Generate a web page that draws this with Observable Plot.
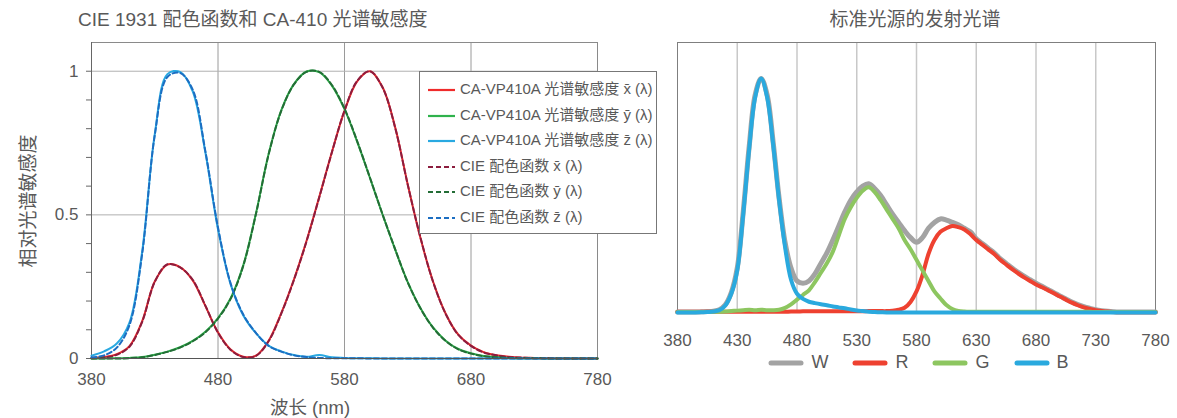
<!DOCTYPE html>
<html><head><meta charset="utf-8">
<script src="https://cdn.jsdelivr.net/npm/d3@7"></script>
<script src="https://cdn.jsdelivr.net/npm/@observablehq/plot@0.6"></script>
<style>
body{margin:0;background:#fff;font-family:Arial,"Liberation Sans","Noto Sans CJK SC",sans-serif;color:#595959;}
#wrap{position:relative;width:1177px;height:418px;overflow:hidden;}
.abs{position:absolute;white-space:nowrap;}
.title{font-size:19px;color:#595959;top:6px;line-height:28px;}
#legL{left:419px;top:71px;width:238px;height:163px;border:1px solid #777;background:#fff;box-sizing:border-box;}
#legL .row{position:absolute;left:8px;height:20px;font-size:15px;line-height:20px;color:#595959;}
#legL svg{vertical-align:middle;margin-right:5px;}
#legR{top:352px;left:660px;width:517px;display:flex;justify-content:center;font-size:18px;color:#595959;}
#legR .it{display:flex;align-items:center;margin:0 12px;}
#legR svg{margin-right:7px;}
</style></head>
<body><div id="wrap"></div>
<script>
// ---------- data ----------
const wl10 = d3.range(380, 781, 10);
// CIE 1931 colour matching functions (normalised to peak 1)
const cieX = [0.001,0.004,0.013,0.041,0.127,0.267,0.328,0.317,0.274,0.184,0.090,0.030,0.005,0.009,0.060,0.156,0.273,0.408,0.560,0.717,0.863,0.966,1.000,0.944,0.804,0.605,0.422,0.267,0.155,0.082,0.044,0.021,0.011,0.005,0.003,0.001,0.001,0,0,0,0];
const cieY = [0,0,0,0.001,0.004,0.012,0.023,0.038,0.060,0.091,0.139,0.208,0.323,0.503,0.710,0.862,0.954,0.998,0.998,0.952,0.870,0.757,0.631,0.503,0.381,0.265,0.175,0.107,0.061,0.032,0.017,0.008,0.004,0.002,0.001,0.001,0,0,0,0,0];
const cieZ = [0.004,0.011,0.038,0.116,0.362,0.777,0.980,0.994,0.936,0.722,0.456,0.261,0.153,0.089,0.044,0.024,0.011,0.005,0.002,0.001,0.001,0.001,0,0,0,0,0,0,0,0,0,0,0,0,0,0,0,0,0,0,0];
// CA-VP410A spectral sensitivities
const caX = [0.002,0.005,0.015,0.043,0.129,0.268,0.327,0.318,0.272,0.183,0.091,0.031,0.006,0.010,0.062,0.158,0.275,0.410,0.562,0.718,0.862,0.965,1.000,0.945,0.806,0.606,0.420,0.268,0.156,0.083,0.045,0.022,0.011,0.006,0.003,0.002,0.001,0.001,0,0,0];
const caY = [0,0,0.001,0.002,0.005,0.013,0.024,0.039,0.061,0.093,0.141,0.210,0.325,0.505,0.712,0.864,0.955,0.999,0.997,0.950,0.868,0.755,0.630,0.502,0.380,0.266,0.176,0.108,0.062,0.033,0.018,0.009,0.005,0.002,0.001,0.001,0,0,0,0,0];
const caZ = [0.010,0.025,0.052,0.125,0.370,0.780,0.990,0.998,0.930,0.718,0.450,0.258,0.150,0.088,0.045,0.025,0.012,0.006,0.012,0.004,0.002,0.001,0.001,0,0,0,0,0,0,0,0,0,0,0,0,0,0,0,0,0,0];

const wl5 = d3.range(380, 781, 5);
// emission spectra of standard sources (relative)
const specW = [0.002,0.002,0.002,0.002,0.003,0.004,0.006,0.012,0.033,0.085,0.19,0.43,0.71,0.93,1.00,0.93,0.73,0.49,0.30,0.19,0.135,0.125,0.135,0.165,0.21,0.255,0.31,0.37,0.43,0.48,0.515,0.54,0.55,0.53,0.50,0.46,0.42,0.385,0.35,0.32,0.30,0.32,0.36,0.385,0.40,0.395,0.385,0.375,0.36,0.345,0.315,0.295,0.275,0.255,0.23,0.21,0.19,0.172,0.155,0.14,0.125,0.112,0.098,0.085,0.071,0.058,0.045,0.034,0.025,0.018,0.012,0.008,0.005,0.003,0.002,0.002,0.002,0.002,0.002,0.002,0.002];
const specR = [0.003,0.003,0.003,0.003,0.003,0.003,0.003,0.003,0.003,0.003,0.003,0.003,0.003,0.003,0.003,0.003,0.003,0.003,0.003,0.004,0.004,0.005,0.005,0.005,0.005,0.005,0.005,0.005,0.005,0.005,0.005,0.005,0.006,0.006,0.006,0.006,0.008,0.012,0.02,0.045,0.09,0.16,0.25,0.31,0.345,0.36,0.37,0.365,0.355,0.335,0.31,0.29,0.27,0.25,0.225,0.205,0.185,0.167,0.15,0.135,0.12,0.108,0.095,0.082,0.068,0.055,0.042,0.031,0.022,0.015,0.01,0.006,0.004,0.002,0.001,0.001,0.001,0.001,0.001,0.001,0.001];
const specG = [0.002,0.002,0.002,0.002,0.002,0.002,0.003,0.003,0.004,0.006,0.008,0.01,0.012,0.01,0.012,0.01,0.01,0.012,0.02,0.035,0.055,0.075,0.095,0.13,0.17,0.21,0.26,0.33,0.40,0.45,0.49,0.52,0.535,0.515,0.48,0.44,0.40,0.36,0.31,0.27,0.225,0.18,0.135,0.09,0.06,0.032,0.015,0.007,0.004,0.003,0.003,0.003,0.003,0.003,0.003,0.003,0.003,0.003,0.003,0.003,0.003,0.003,0.003,0.003,0.003,0.003,0.003,0.003,0.003,0.003,0.002,0.002,0.002,0.002,0.002,0.002,0.002,0.002,0.002,0.002,0.002];
const specB = [0,0,0,0,0.001,0.002,0.004,0.01,0.03,0.08,0.18,0.42,0.70,0.92,1.00,0.92,0.72,0.48,0.28,0.14,0.08,0.058,0.046,0.04,0.035,0.031,0.026,0.022,0.018,0.013,0.009,0.006,0.003,0.002,0.001,0,0,0,0,0,0,0,0,0,0,0,0,0,0,0,0,0,0,0,0,0,0,0,0,0,0,0,0,0,0,0,0,0,0,0,0,0,0,0,0,0,0,0,0,0,0];

const leftXTicks = [380,480,580,680,780];
const leftYTicks = [0,0.5,1];
const leftYMinor = [0,0.1,0.2,0.3,0.4,0.5,0.6,0.7,0.8,0.9,1.0];
const rightXTicks = [380,430,480,530,580,630,680,730,780];

const leftSeries = [
  {name:"CA-VP410A 光谱敏感度 x̄ (λ)", vals:caX, color:"#ef2b2b", dash:null},
  {name:"CA-VP410A 光谱敏感度 ȳ (λ)", vals:caY, color:"#2fb24c", dash:null},
  {name:"CA-VP410A 光谱敏感度 z̄ (λ)", vals:caZ, color:"#29a9e1", dash:null},
  {name:"CIE 配色函数 x̄ (λ)", vals:cieX, color:"#8c1d3e", dash:"5,3"},
  {name:"CIE 配色函数 ȳ (λ)", vals:cieY, color:"#236d36", dash:"5,3"},
  {name:"CIE 配色函数 z̄ (λ)", vals:cieZ, color:"#1c6ec2", dash:"5,3"}
];
const rightSeries = [
  {name:"W", vals:specW, color:"#a3a3a3", w:5},
  {name:"R", vals:specR, color:"#ee4130", w:4},
  {name:"G", vals:specG, color:"#8dc660", w:4},
  {name:"B", vals:specB, color:"#2aa9de", w:4}
];

const FONT = 'Arial, "Liberation Sans", "Noto Sans CJK SC", sans-serif';
const wrap = document.getElementById("wrap");
function addDiv(cls, html, style){const d=document.createElement("div");d.className="abs "+cls;d.innerHTML=html;Object.assign(d.style,style);wrap.appendChild(d);return d;}

// ---------- left chart ----------
addDiv("title","CIE 1931 配色函数和 CA-410 光谱敏感度",{left:"78px"});
const leftMarks = [
  Plot.gridX([480,580,680],{stroke:"#9a9a9a",strokeOpacity:1}),
  Plot.gridY([0.5,1],{stroke:"#b0b0b0",strokeOpacity:1}),
  Plot.frame({stroke:"#8a8a8a"}),
  Plot.axisY(leftYMinor,{tickSize:5,tickFormat:()=>"",stroke:"#666"}),
  Plot.axisY(leftYTicks,{tickSize:0,tickPadding:13,tickFormat:d=>String(d),fontSize:17}),
  Plot.axisX(leftXTicks,{tickSize:0,tickPadding:14,fontSize:17}),
  Plot.ruleX([380],{stroke:"#666"}),
];
for (const s of leftSeries.filter(s=>!s.dash)) {
  leftMarks.push(Plot.line(wl10.map((w,i)=>({w,v:s.vals[i]})),{x:"w",y:"v",stroke:s.color,strokeWidth:2,curve:"catmull-rom"}));
}
for (const s of leftSeries.filter(s=>s.dash)) {
  leftMarks.push(Plot.line(wl10.map((w,i)=>({w,v:s.vals[i]})),{x:"w",y:"v",stroke:s.color,strokeWidth:2,strokeDasharray:s.dash,curve:"catmull-rom"}));
}
leftMarks.push(Plot.ruleY([0],{stroke:"#555"}));
const left = Plot.plot({
  width:620,height:382,marginLeft:91,marginRight:23,marginTop:6,marginBottom:60,
  x:{domain:[380,780],label:null},
  y:{domain:[0,1.1],label:null},
  style:{fontFamily:FONT,fontSize:"17px",color:"#595959",background:"transparent",overflow:"visible"},
  marks:leftMarks
});
left.style.position="absolute";left.style.left="0px";left.style.top="36px";
wrap.appendChild(left);
addDiv("","波长 (nm)",{left:"310px",top:"397px",fontSize:"18.5px",transform:"translateX(-50%)",lineHeight:"22px"});
addDiv("","相对光谱敏感度",{left:"29px",top:"201px",fontSize:"19px",transform:"translate(-50%,-50%) rotate(-90deg)",lineHeight:"22px"});

const leg = addDiv("","",{});
leg.id="legL";
leftSeries.forEach((s,i)=>{
  const r=document.createElement("div");r.className="row";r.style.top=(7+i*25.6)+"px";
  r.innerHTML=`<svg width="27" height="4"><line x1="0" y1="2" x2="27" y2="2" stroke="${s.color}" stroke-width="2.2" ${s.dash?`stroke-dasharray="${s.dash}"`:""}/></svg>${s.name}`;
  leg.appendChild(r);
});

// ---------- right chart ----------
addDiv("title","标准光源的发射光谱",{left:"915px",transform:"translateX(-50%)"});
const rightMarks = [
  Plot.gridX(rightXTicks.slice(1,-1),{stroke:"#c8c8c8",strokeOpacity:1,strokeWidth:1.5}),
  Plot.frame({stroke:"#7f7f7f"}),
  Plot.axisX(rightXTicks,{tickSize:0,tickPadding:21,fontSize:17}),
  Plot.axisY({ticks:[],tickSize:0,label:null})
];
for (const s of rightSeries) {
  rightMarks.push(Plot.line(wl5.map((w,i)=>({w,v:s.vals[i]})),{x:"w",y:"v",stroke:s.color,strokeWidth:s.w,curve:"catmull-rom",strokeLinejoin:"round",strokeLinecap:"round"}));
}
const right = Plot.plot({
  width:517,height:320,marginLeft:17,marginRight:22,marginTop:6,marginBottom:44,
  x:{domain:[380,780],label:null},
  y:{domain:[0,1.154],label:null},
  style:{fontFamily:FONT,fontSize:"17px",color:"#595959",background:"transparent",overflow:"visible"},
  marks:rightMarks
});
right.style.position="absolute";right.style.left="660px";right.style.top="36px";
wrap.appendChild(right);

const legR = addDiv("","",{});
legR.id="legR";
rightSeries.forEach(s=>{
  const it=document.createElement("div");it.className="it";
  it.innerHTML=`<svg width="36" height="8"><line x1="3" y1="4" x2="33" y2="4" stroke="${s.color}" stroke-width="5" stroke-linecap="round"/></svg>${s.name}`;
  legR.appendChild(it);
});
</script></body></html>
